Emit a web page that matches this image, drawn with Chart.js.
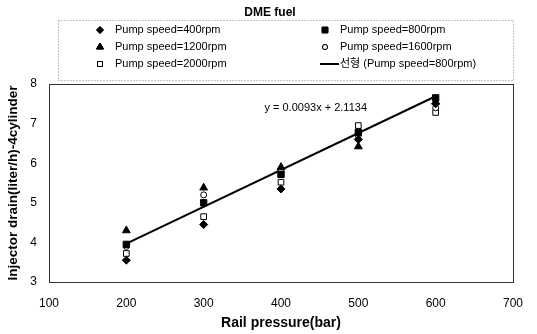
<!DOCTYPE html>
<html>
<head>
<meta charset="utf-8">
<script src="https://cdn.jsdelivr.net/npm/chart.js"></script>
<style>
  html, body { margin: 0; padding: 0; background: #fff; }
  #wrap { width: 537px; height: 334px; }
</style>
</head>
<body>
<div id="wrap"><canvas id="myChart" width="537" height="334"></canvas></div>
<script>
// data
const pressures = [200, 300, 400, 500, 600];
const rpm400  = [3.55, 4.45, 5.35, 6.60, 7.50];
const rpm800  = [3.95, 5.00, 5.72, 6.78, 7.65];
const rpm1200 = [4.30, 5.38, 5.90, 6.42, 7.55];
const rpm1600 = [3.90, 5.20, 5.80, 6.70, 7.40];
const rpm2000 = [3.72, 4.65, 5.52, 6.95, 7.28];
const fitX = [200, 600];
const fitY = [3.97, 7.69];
const xTicks = [100, 200, 300, 400, 500, 600, 700];
const yTicks = [3, 4, 5, 6, 7, 8];
const labels = ['Pump speed=400rpm', 'Pump speed=800rpm', 'Pump speed=1200rpm',
                'Pump speed=1600rpm', 'Pump speed=2000rpm', '선형 (Pump speed=800rpm)'];
const equation = 'y = 0.0093x + 2.1134';

const FONT = "'Liberation Sans', Arial, 'Noto Sans CJK KR', sans-serif";

function pts(xs, ys) {
  return xs.map((x, i) => ({ x: x, y: ys[i] }));
}

function marker(label, ys, style, radius, filled) {
  return {
    type: 'scatter', label: label, data: pts(pressures, ys),
    pointStyle: style, pointRadius: radius, pointHoverRadius: radius,
    pointBackgroundColor: filled ? '#000' : '#fff',
    pointBorderColor: '#000', pointBorderWidth: 1
  };
}

const datasets = [
  marker(labels[0], rpm400, 'rectRot', 4, true),
  marker(labels[1], rpm800, 'rect', 4.5, true),
  marker(labels[2], rpm1200, 'triangle', 4.5, true),
  marker(labels[3], rpm1600, 'circle', 3, false),
  marker(labels[4], rpm2000, 'rect', 4, false),
  {
    type: 'line', label: labels[5], data: pts(fitX, fitY),
    borderColor: '#000', borderWidth: 2, pointRadius: 0, fill: false
  }
];

// title, legend box, equation and frame
const decor = {
  id: 'decor',
  afterDraw(chart) {
    const ctx = chart.ctx;
    const a = chart.chartArea;
    ctx.save();
    ctx.strokeStyle = '#333';
    ctx.lineWidth = 1;
    ctx.strokeRect(a.left + 0.5, a.top + 0.5, a.right - a.left, a.bottom - a.top);

    ctx.fillStyle = '#000';
    ctx.font = 'bold 12px ' + FONT;
    ctx.textAlign = 'center';
    ctx.textBaseline = 'middle';
    ctx.fillText('DME fuel', 270, 13);

    ctx.setLineDash([1, 2]);
    ctx.strokeStyle = '#888';
    ctx.strokeRect(58.5, 20.5, 455, 60);
    ctx.setLineDash([]);

    const colX = [100, 325];
    const rowY = [30, 47, 64];
    ctx.font = '11px ' + FONT;
    ctx.textAlign = 'left';
    chart.data.datasets.forEach((ds, i) => {
      const x = colX[i % 2], y = rowY[Math.floor(i / 2)];
      if (ds.type === 'line') {
        ctx.strokeStyle = '#000';
        ctx.lineWidth = 2;
        ctx.beginPath();
        ctx.moveTo(x - 5, y);
        ctx.lineTo(x + 14, y);
        ctx.stroke();
        ctx.fillText(ds.label, x + 15, y);
      } else {
        Chart.helpers.drawPoint(ctx, {
          pointStyle: ds.pointStyle, radius: ds.pointRadius - 0.5, rotation: 0, borderWidth: 1
        }, x, y);
        ctx.fillStyle = ds.pointBackgroundColor;
        ctx.strokeStyle = '#000';
        ctx.lineWidth = 1;
        ctx.fill();
        ctx.stroke();
        ctx.fillStyle = '#000';
        ctx.fillText(ds.label, x + 15, y);
      }
    });

    ctx.font = '11px ' + FONT;
    ctx.textAlign = 'right';
    ctx.fillText(equation, 367, 108);
    ctx.restore();
  }
};

new Chart(document.getElementById('myChart'), {
  type: 'scatter',
  data: { datasets: datasets },
  plugins: [decor],
  options: {
    responsive: false,
    animation: false,
    layout: { padding: { top: 84, right: 13, left: 0, bottom: 0 } },
    plugins: { legend: { display: false }, tooltip: { enabled: false } },
    scales: {
      x: {
        type: 'linear', min: 100, max: 700,
        afterBuildTicks: s => { s.ticks = xTicks.map(v => ({ value: v })); },
        afterFit: s => { s.height = 52; },
        grid: { display: false, drawTicks: false },
        border: { display: false },
        ticks: { color: '#000', padding: 14, font: { family: FONT, size: 12 } },
        title: {
          display: true, text: 'Rail pressure(bar)', color: '#000',
          padding: { top: 0, bottom: 2 }, font: { family: FONT, size: 14, weight: 'bold' }
        }
      },
      y: {
        type: 'linear', min: 3, max: 8,
        afterBuildTicks: s => { s.ticks = yTicks.map(v => ({ value: v })); },
        afterFit: s => { s.width = 49; },
        grid: { display: false, drawTicks: false },
        border: { display: false },
        ticks: { color: '#000', padding: 12, font: { family: FONT, size: 12 } },
        title: {
          display: true, text: 'Injector drain(liter/h)-4cylinder', color: '#000',
          padding: { top: 5, bottom: 0 }, font: { family: FONT, size: 13.5, weight: 'bold' }
        }
      }
    }
  }
});
</script>
</body>
</html>
